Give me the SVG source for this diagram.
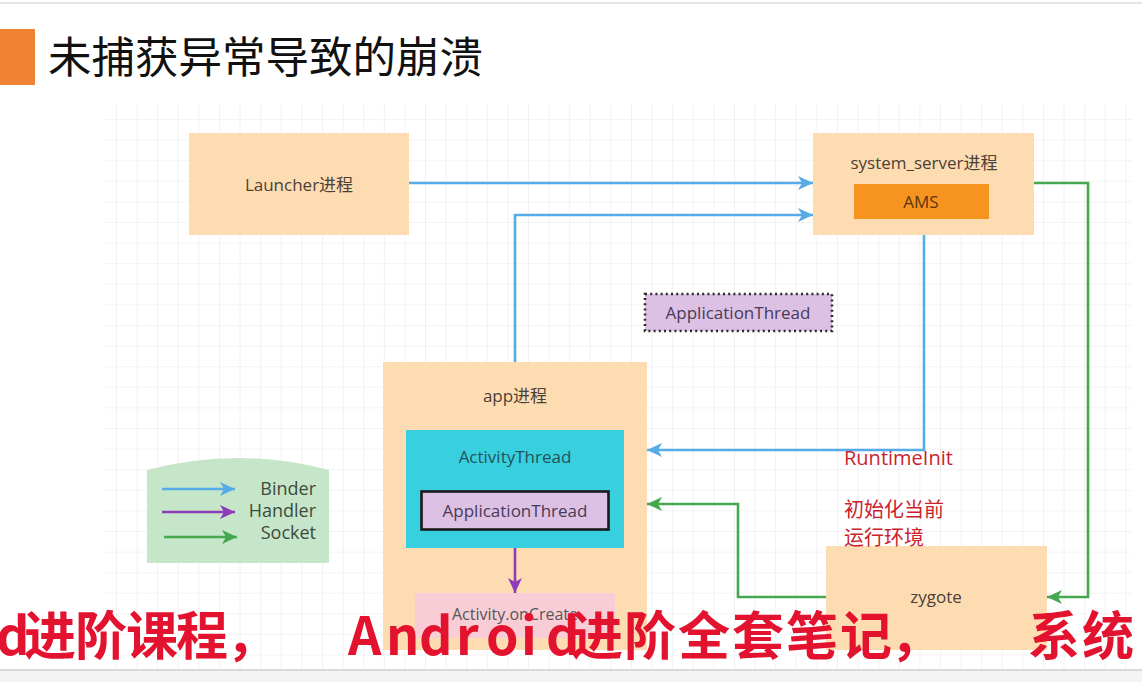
<svg xmlns="http://www.w3.org/2000/svg" width="1142" height="682" viewBox="0 0 1142 682">
<style>
.t{font-family:"Open Sans","Noto Sans CJK SC",sans-serif;font-size:17px;fill:#4d4037;text-anchor:middle;}
.lg{font-family:"Open Sans","Noto Sans CJK SC",sans-serif;font-size:18px;fill:#3e4a3e;text-anchor:end;}
.red{font-family:"Open Sans","Noto Sans CJK SC",sans-serif;font-size:20px;fill:#cc1f2d;}
.sub{font-family:"Noto Sans CJK SC",sans-serif;font-size:52px;font-weight:bold;fill:#e3132f;}
.blue{fill:none;stroke:#55ace6;stroke-width:2.6;}
.green{fill:none;stroke:#46a84e;stroke-width:2.6;}
.purple{fill:none;stroke:#8c3cb8;stroke-width:2.6;}
.peach{fill:#fedcb2;}
</style>
<defs>
<pattern id="grid" x="116" y="119" width="20.6" height="20.6" patternUnits="userSpaceOnUse">
<path d="M0 0H20.6M0 0V20.6" fill="none" stroke="#e9e9e9" stroke-width="1.2"/>
</pattern>
<marker id="ab" markerUnits="userSpaceOnUse" markerWidth="16" markerHeight="14" refX="15" refY="7" orient="auto"><path d="M0 0L15 7L0 14L4 7Z" fill="#55ace6"/></marker>
<marker id="ag" markerUnits="userSpaceOnUse" markerWidth="16" markerHeight="14" refX="15" refY="7" orient="auto"><path d="M0 0L15 7L0 14L4 7Z" fill="#46a84e"/></marker>
<marker id="ap" markerUnits="userSpaceOnUse" markerWidth="16" markerHeight="14" refX="15" refY="7" orient="auto"><path d="M0 0L15 7L0 14L4 7Z" fill="#8c3cb8"/></marker>
</defs>
<rect width="1142" height="682" fill="#ffffff"/>
<line x1="0" y1="3" x2="1142" y2="3" stroke="#dcdcdc" stroke-width="1.5"/>
<rect x="105" y="103" width="1027" height="566" fill="url(#grid)"/>
<rect x="0" y="670" width="1142" height="12" fill="#f3f3f3"/>
<line x1="0" y1="670" x2="1142" y2="670" stroke="#cfcfcf" stroke-width="1.5"/>

<g id="title">
<rect x="0" y="29" width="35" height="56" fill="#ef8233"/>
<text x="48" y="73" font-family="'Noto Sans CJK SC',sans-serif" font-size="43.5" fill="#111">未捕获异常导致的崩溃</text>
</g>

<g id="launcher">
<rect class="peach" x="189" y="133" width="220" height="102"/>
<text class="t" x="299" y="191">Launcher进程</text>
</g>

<g id="system_server">
<rect class="peach" x="813" y="133" width="221" height="102"/>
<text class="t" x="924" y="169">system_server进程</text>
<rect x="854" y="184" width="135" height="35" fill="#f7931f"/>
<text class="t" x="921" y="208" style="fill:#5a3510">AMS</text>
</g>

<g id="binder_thread">
<rect x="645" y="294" width="187" height="37" fill="#dcc1e5" stroke="#2a2a2a" stroke-width="2.6" stroke-dasharray="2 3.2"/>
<text class="t" x="738" y="319" style="fill:#4a3a55">ApplicationThread</text>
</g>

<g id="app">
<rect class="peach" x="383" y="362" width="264" height="288"/>
<text class="t" x="515" y="402">app进程</text>
<rect x="406" y="430" width="218" height="118" fill="#38cfdf"/>
<text class="t" x="515" y="463" style="fill:#22535a">ActivityThread</text>
<rect x="421.5" y="491.5" width="187" height="38" fill="#dcc1e5" stroke="#1a1a1a" stroke-width="2.6"/>
<text class="t" x="515" y="517" style="fill:#4a3a55">ApplicationThread</text>
<rect x="415" y="593" width="200" height="45" fill="#f9cdd6"/>
<text class="t" x="515" y="620" style="fill:#555;font-size:16px">Activity.onCreate</text>
</g>

<g id="zygote">
<rect class="peach" x="826" y="546" width="221" height="104"/>
<text class="t" x="936" y="603">zygote</text>
</g>

<g id="legend">
<path d="M147 470Q238 446 329 470V563H147Z" fill="#c6e6c9"/>
<line class="blue" x1="162" y1="489" x2="235" y2="489" marker-end="url(#ab)"/>
<line class="purple" x1="162" y1="512" x2="235" y2="512" marker-end="url(#ap)"/>
<line class="green" x1="164" y1="537" x2="237" y2="537" marker-end="url(#ag)"/>
<text class="lg" x="316" y="495">Binder</text>
<text class="lg" x="316" y="517">Handler</text>
<text class="lg" x="316" y="539">Socket</text>
</g>

<g id="connectors">
<path class="blue" d="M409 183H813" marker-end="url(#ab)"/>
<path class="blue" d="M515 362V215H813" marker-end="url(#ab)"/>
<path class="blue" d="M924 235V450H647" marker-end="url(#ab)"/>
<path class="green" d="M1034 183H1088V597H1047" marker-end="url(#ag)"/>
<path class="green" d="M826 597H738V504H647" marker-end="url(#ag)"/>
<path class="purple" d="M515 548V593" marker-end="url(#ap)"/>
</g>

<g id="labels">
<text class="red" x="844" y="465">RuntimeInit</text>
<text class="red" x="844" y="517">初始化当前</text>
<text class="red" x="844" y="545">运行环境</text>
</g>

<g id="subtitle">
<text class="sub" y="655" x="-4 24 75 126 176 226 348 386 419 456 486 521 546 571 624 678 732 786 840 890 1028 1082">d进阶课程，Android进阶全套笔记，系统</text>
</g>
</svg>
